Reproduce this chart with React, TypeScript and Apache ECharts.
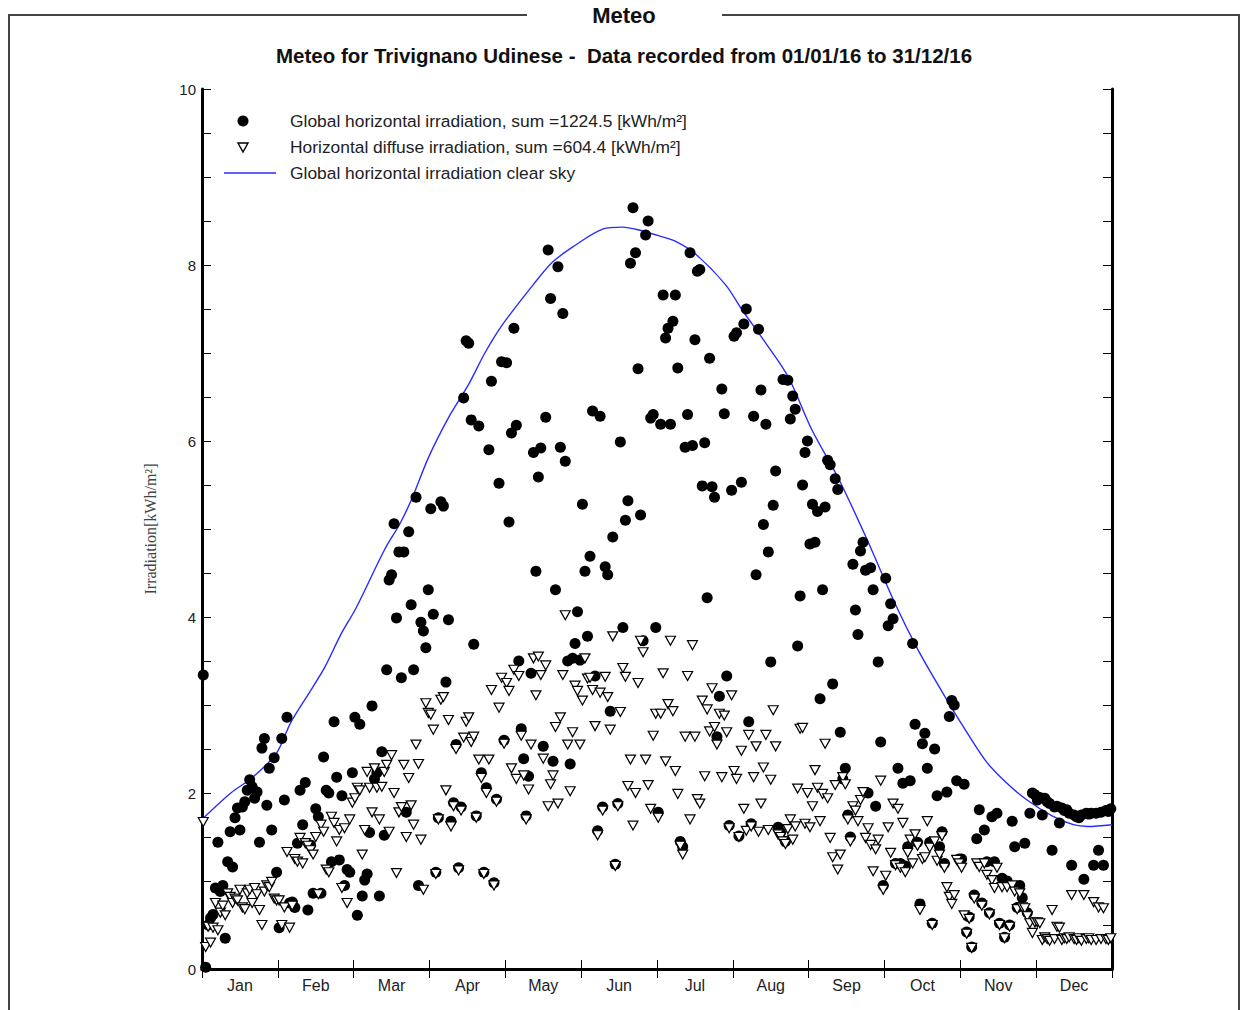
import React, { useEffect, useRef } from "react";
import * as echarts from "echarts";

const months = ["Jan", "Feb", "Mar", "Apr", "May", "Jun", "Jul", "Aug", "Sep", "Oct", "Nov", "Dec"];
const yTicks = [0, 2, 4, 6, 8, 10];

// Global horizontal irradiation, daily [kWh/m²]
const gJan = [3.34, 0.02, 0.5, 0.58, 0.62, 0.92, 1.44, 0.88, 0.95, 0.35, 1.22, 1.56, 1.16, 1.72, 1.83, 1.58, 1.84, 1.9, 2.03, 2.15, 2.07, 1.94, 2.01, 1.44, 2.51, 2.62, 1.86, 2.28, 1.58, 2.4, 1.1];
const gFeb = [0.47, 2.62, 1.92, 2.86, 0.75, 0.76, 0.7, 1.43, 2.03, 1.64, 2.12, 0.67, 1.41, 0.86, 1.82, 1.73, 0.86, 2.41, 2.03, 2.0, 1.22, 2.81, 2.18, 1.24, 1.97, 0.95, 1.13, 1.1, 2.23];
const gMar = [2.86, 0.61, 2.78, 0.83, 1.01, 1.08, 1.55, 2.99, 2.16, 2.23, 0.83, 2.47, 1.52, 3.4, 4.42, 4.48, 5.06, 3.99, 4.74, 3.31, 4.74, 1.78, 4.97, 4.14, 3.4, 5.36, 0.95, 3.94, 3.84, 3.65, 4.31];
const gApr = [5.23, 4.03, 1.1, 1.72, 5.31, 5.26, 3.26, 3.97, 1.68, 1.89, 2.55, 1.15, 1.84, 6.49, 7.14, 7.11, 6.24, 3.69, 1.74, 6.17, 2.23, 1.1, 2.06, 5.9, 6.68, 0.98, 1.93, 5.52, 6.9, 2.6];
const gMay = [6.89, 5.08, 6.09, 7.28, 6.18, 3.5, 2.73, 2.39, 1.74, 2.19, 3.36, 5.87, 4.52, 5.59, 5.92, 2.53, 6.27, 8.17, 7.62, 2.36, 4.31, 7.98, 5.93, 7.45, 5.77, 3.5, 2.33, 3.53, 3.7, 4.06, 3.51];
const gJun = [5.28, 4.52, 3.78, 4.69, 6.34, 3.33, 1.57, 6.28, 1.84, 4.57, 4.48, 2.93, 4.91, 1.19, 1.88, 5.99, 3.88, 5.1, 5.32, 8.02, 8.65, 8.14, 6.82, 5.16, 3.73, 8.34, 8.5, 6.26, 6.3, 3.88];
const gJul = [1.78, 6.19, 7.66, 7.17, 7.28, 6.19, 7.36, 7.66, 6.83, 1.45, 1.39, 5.93, 6.3, 8.14, 5.95, 7.15, 7.93, 7.95, 5.49, 5.98, 4.22, 6.94, 5.48, 5.36, 2.64, 3.1, 6.59, 6.31, 3.33, 1.63, 5.44];
const gAug = [7.19, 7.23, 1.51, 5.53, 7.33, 7.5, 2.81, 1.65, 6.28, 4.48, 7.27, 6.58, 5.05, 6.19, 4.74, 3.49, 5.27, 5.66, 1.61, 1.55, 6.7, 1.45, 6.69, 6.25, 6.51, 6.36, 3.67, 4.24, 5.5, 5.87, 6.0];
const gSep = [4.83, 5.28, 4.85, 5.2, 3.07, 4.31, 5.25, 5.78, 5.73, 3.24, 5.57, 5.45, 2.69, 2.16, 2.28, 1.75, 1.5, 4.6, 4.08, 3.8, 4.75, 4.85, 4.53, 2.0, 4.56, 4.31, 1.85, 3.49, 2.58, 0.95];
const gOct = [4.44, 3.9, 4.15, 3.98, 1.2, 2.28, 1.2, 2.11, 1.17, 1.39, 2.14, 3.7, 2.78, 1.44, 0.74, 2.56, 2.68, 2.28, 1.44, 0.52, 2.5, 1.97, 1.39, 1.56, 1.2, 2.01, 2.87, 3.05, 3.0, 2.14, 1.25];
const gNov = [1.25, 2.1, 0.42, 0.59, 0.25, 0.84, 1.48, 1.81, 0.75, 1.58, 1.22, 0.64, 1.73, 1.22, 1.77, 0.52, 1.03, 0.36, 1.0, 0.5, 1.68, 1.39, 0.7, 0.95, 0.81, 1.43, 0.64, 1.77, 2.0, 1.98];
const gDec = [1.92, 1.95, 1.75, 1.94, 1.9, 1.88, 1.35, 1.84, 1.85, 1.66, 1.83, 1.8, 1.81, 1.77, 1.18, 1.75, 1.73, 1.72, 1.75, 1.02, 1.77, 1.76, 1.77, 1.18, 1.77, 1.35, 1.78, 1.18, 1.8, 1.79, 1.82];

// Horizontal diffuse irradiation, daily [kWh/m²]
const dJan = [1.67, 0.25, 0.48, 0.3, 0.47, 0.75, 0.44, 0.64, 0.72, 0.61, 0.86, 0.82, 0.75, 0.8, 0.78, 0.9, 0.7, 0.68, 0.86, 0.9, 0.75, 0.92, 0.85, 0.67, 0.5, 0.88, 0.95, 0.93, 0.99, 0.8, 0.78];
const dFeb = [0.78, 0.5, 0.7, 1.33, 0.47, 0.72, 1.25, 1.22, 1.49, 1.2, 1.43, 1.4, 1.35, 1.3, 1.5, 0.85, 1.64, 1.56, 1.13, 1.1, 1.73, 1.66, 1.45, 1.58, 0.92, 1.6, 0.75, 1.7, 1.89];
const dMar = [1.94, 2.06, 2.03, 1.3, 1.58, 2.24, 2.06, 1.78, 2.28, 2.06, 1.7, 2.07, 2.24, 2.32, 1.56, 2.43, 2.0, 1.09, 1.78, 1.84, 2.32, 1.5, 2.17, 1.86, 1.64, 2.55, 2.33, 1.47, 0.9, 3.02, 2.91];
const dApr = [2.89, 2.72, 1.08, 1.7, 3.06, 3.09, 2.03, 2.83, 1.62, 1.85, 2.5, 1.12, 1.8, 2.63, 2.81, 2.86, 2.58, 2.64, 1.72, 2.38, 2.17, 1.08, 2.0, 2.38, 3.17, 0.95, 1.9, 2.97, 3.31, 2.56];
const dMay = [3.25, 3.16, 2.28, 3.4, 2.16, 3.33, 2.65, 2.2, 1.7, 2.04, 2.55, 3.53, 3.11, 3.55, 3.34, 2.39, 3.45, 1.85, 2.1, 2.2, 2.75, 1.88, 2.86, 3.34, 4.02, 2.55, 2.02, 2.69, 3.22, 3.16, 2.55];
const dJun = [3.05, 3.53, 3.3, 3.31, 3.17, 2.76, 1.52, 3.14, 1.8, 3.32, 3.09, 2.72, 3.78, 1.17, 1.85, 2.92, 3.42, 3.32, 2.08, 2.38, 1.63, 2.0, 3.25, 3.73, 3.6, 2.38, 2.09, 1.82, 2.65, 2.9];
const dJul = [1.72, 2.9, 3.36, 2.36, 3.01, 3.73, 2.93, 2.25, 1.99, 1.4, 1.3, 2.64, 3.33, 1.7, 3.68, 2.64, 1.93, 1.88, 3.05, 2.19, 2.95, 2.7, 3.19, 2.75, 2.55, 2.9, 2.18, 2.88, 2.69, 1.6, 3.11];
const dAug = [2.25, 2.16, 1.5, 2.48, 1.82, 1.57, 2.66, 1.62, 2.18, 2.53, 1.56, 1.88, 2.29, 2.66, 1.58, 2.15, 2.94, 2.53, 1.53, 1.5, 1.45, 1.42, 1.59, 1.7, 1.47, 1.62, 2.05, 2.73, 2.74, 1.65, 2.0];
const dSep = [1.61, 1.85, 2.26, 2.06, 1.68, 1.99, 2.56, 1.94, 1.49, 1.27, 2.09, 1.13, 1.3, 2.18, 2.1, 1.7, 1.45, 1.85, 1.8, 1.68, 1.92, 2.01, 1.49, 1.6, 1.41, 1.11, 1.36, 1.47, 2.14, 0.9];
const dOct = [1.06, 1.61, 1.32, 1.88, 1.18, 1.82, 1.15, 1.66, 1.1, 1.32, 1.47, 1.2, 1.53, 1.4, 0.67, 1.25, 1.27, 1.68, 1.38, 0.5, 1.45, 1.23, 1.3, 1.51, 1.15, 0.93, 0.82, 0.74, 0.84, 1.24, 1.2];
const dNov = [1.15, 0.61, 0.4, 0.57, 0.24, 0.8, 1.2, 1.16, 0.72, 1.2, 1.07, 0.62, 1.01, 0.92, 1.15, 0.5, 0.93, 0.35, 0.93, 0.48, 0.95, 0.88, 0.68, 0.86, 0.7, 0.69, 0.6, 0.52, 0.41, 0.53];
const dDec = [0.53, 0.52, 0.33, 0.36, 0.34, 0.32, 0.67, 0.34, 0.48, 0.47, 0.33, 0.35, 0.34, 0.36, 0.84, 0.34, 0.33, 0.35, 0.32, 0.84, 0.34, 0.35, 0.33, 0.76, 0.33, 0.7, 0.34, 0.69, 0.34, 0.33, 0.35];

// Clear-sky global horizontal irradiation (position in months from 1 Jan, value)
const clearSkyPos = [0, 0.38, 0.67, 0.98, 1.17, 1.4, 1.62, 1.83, 2.03, 2.41, 2.61, 2.77, 2.99, 3.26, 3.52, 3.73, 3.96, 4.39, 4.62, 4.88, 5.29, 5.54, 5.75, 6.07, 6.24, 6.5, 6.9, 7.13, 7.42, 7.73, 8.04, 8.39, 8.77, 9.14, 9.44, 9.76, 10.02, 10.33, 10.59, 10.88, 11.21, 11.49, 11.68, 12.0];
const clearSkyVal = [1.7, 2.0, 2.18, 2.45, 2.8, 3.12, 3.43, 3.8, 4.1, 4.77, 5.06, 5.35, 5.82, 6.28, 6.65, 7.0, 7.32, 7.8, 8.03, 8.2, 8.41, 8.43, 8.4, 8.32, 8.27, 8.13, 7.78, 7.48, 7.13, 6.73, 6.13, 5.58, 4.88, 4.15, 3.63, 3.15, 2.78, 2.37, 2.13, 1.92, 1.74, 1.64, 1.62, 1.64];

const globalRows = [gJan, gFeb, gMar, gApr, gMay, gJun, gJul, gAug, gSep, gOct, gNov, gDec];
const diffuseRows = [dJan, dFeb, dMar, dApr, dMay, dJun, dJul, dAug, dSep, dOct, dNov, dDec];

const toPoints = (rows: number[][]) =>
  rows.flatMap((vals, m) => vals.map((v, i) => [m + (i + 0.5) / vals.length, v]));

const SANS = "Liberation Sans, Arial, Helvetica, sans-serif";

export default function App() {
  const ref = useRef<HTMLDivElement>(null);
  useEffect(() => {
    document.body.style.margin = "0";
    if (!ref.current) return;
    const chart = echarts.init(ref.current, null, { renderer: "svg" });
    const axisLine = { show: true, lineStyle: { color: "#000", width: 3 } };
    const tick = { show: true, inside: true, length: 9, lineStyle: { color: "#000", width: 1 } };
    const option: any = {
      animation: false,
      backgroundColor: "#fff",
      grid: { left: 202, right: 129, top: 89, bottom: 41, containLabel: false },
      xAxis: [
        {
          type: "category",
          data: months,
          position: "bottom",
          boundaryGap: true,
          axisLine,
          axisTick: tick,
          axisLabel: { color: "#222", fontFamily: SANS, fontSize: 16, margin: 8 },
          splitLine: { show: false },
        },
        {
          type: "value",
          min: 0,
          max: 12,
          interval: 1,
          position: "top",
          axisLine,
          axisTick: tick,
          axisLabel: { show: false },
          splitLine: { show: false },
        },
      ],
      yAxis: [
        {
          type: "value",
          min: 0,
          max: 10,
          interval: 0.5,
          position: "left",
          name: "Irradiation[kWh/m²]",
          nameLocation: "middle",
          nameRotate: 90,
          nameGap: 44,
          nameTextStyle: { fontFamily: "Liberation Serif, Times New Roman, serif", fontSize: 16, color: "#444" },
          axisLine,
          axisTick: tick,
          axisLabel: {
            color: "#222",
            fontFamily: SANS,
            fontSize: 15,
            margin: 6,
            formatter: (v: number) => (yTicks.includes(v) ? String(v) : ""),
          },
          splitLine: { show: false },
        },
        {
          type: "value",
          min: 0,
          max: 10,
          interval: 0.5,
          position: "right",
          axisLine,
          axisTick: tick,
          axisLabel: { show: false },
          splitLine: { show: false },
        },
      ],
      series: [
        {
          name: "Global horizontal irradiation clear sky",
          type: "line",
          xAxisIndex: 1,
          yAxisIndex: 0,
          data: clearSkyPos.map((p, i) => [p, clearSkyVal[i]]),
          smooth: 0.3,
          showSymbol: false,
          lineStyle: { color: "#2b2bff", width: 1.4 },
          z: 1,
        },
        {
          name: "Global horizontal irradiation",
          type: "scatter",
          xAxisIndex: 1,
          yAxisIndex: 0,
          data: toPoints(globalRows),
          symbol: "circle",
          symbolSize: 11,
          itemStyle: { color: "#000", opacity: 1 },
          z: 2,
        },
        {
          name: "Horizontal diffuse irradiation",
          type: "scatter",
          xAxisIndex: 1,
          yAxisIndex: 0,
          data: toPoints(diffuseRows),
          symbol: "path://M0,0 L10,0 L5,8.7 Z",
          symbolSize: [10, 9],
          itemStyle: { color: "#fff", borderColor: "#000", borderWidth: 1.2, opacity: 1 },
          z: 3,
        },
      ],
      graphic: [
        { type: "line", shape: { x1: 8, y1: 15, x2: 527, y2: 15 }, style: { stroke: "#444", lineWidth: 2 } },
        { type: "line", shape: { x1: 722, y1: 15, x2: 1240, y2: 15 }, style: { stroke: "#444", lineWidth: 2 } },
        { type: "line", shape: { x1: 9, y1: 14, x2: 9, y2: 1010 }, style: { stroke: "#444", lineWidth: 2 } },
        { type: "line", shape: { x1: 1239, y1: 14, x2: 1239, y2: 1010 }, style: { stroke: "#444", lineWidth: 2 } },
        {
          type: "text",
          x: 624,
          y: 15,
          style: { text: "Meteo", font: `bold 22px ${SANS}`, fill: "#111", align: "center", verticalAlign: "middle" },
        },
        {
          type: "text",
          x: 624,
          y: 55,
          style: {
            text: "Meteo for Trivignano Udinese -  Data recorded from 01/01/16 to 31/12/16",
            font: `bold 20.5px ${SANS}`,
            fill: "#111",
            align: "center",
            verticalAlign: "middle",
          },
        },
        { type: "circle", shape: { cx: 243, cy: 121, r: 5.5 }, style: { fill: "#000" }, z: 10 },
        {
          type: "polygon",
          shape: { points: [[238, 143], [248, 143], [243, 152]] },
          style: { fill: "#fff", stroke: "#000", lineWidth: 1.4 },
          z: 10,
        },
        { type: "line", shape: { x1: 224, y1: 173, x2: 276, y2: 173 }, style: { stroke: "#2b2bff", lineWidth: 1.4 }, z: 10 },
        {
          type: "text",
          x: 290,
          y: 121,
          style: { text: "Global horizontal irradiation, sum =1224.5 [kWh/m²]", font: `17.4px ${SANS}`, fill: "#222", verticalAlign: "middle" },
          z: 10,
        },
        {
          type: "text",
          x: 290,
          y: 147,
          style: { text: "Horizontal diffuse irradiation, sum =604.4 [kWh/m²]", font: `17.4px ${SANS}`, fill: "#222", verticalAlign: "middle" },
          z: 10,
        },
        {
          type: "text",
          x: 290,
          y: 173,
          style: { text: "Global horizontal irradiation clear sky", font: `17.4px ${SANS}`, fill: "#222", verticalAlign: "middle" },
          z: 10,
        },
      ],
    };
    chart.setOption(option);
    return () => chart.dispose();
  }, []);
  return <div ref={ref} style={{ width: 1241, height: 1010 }} />;
}
